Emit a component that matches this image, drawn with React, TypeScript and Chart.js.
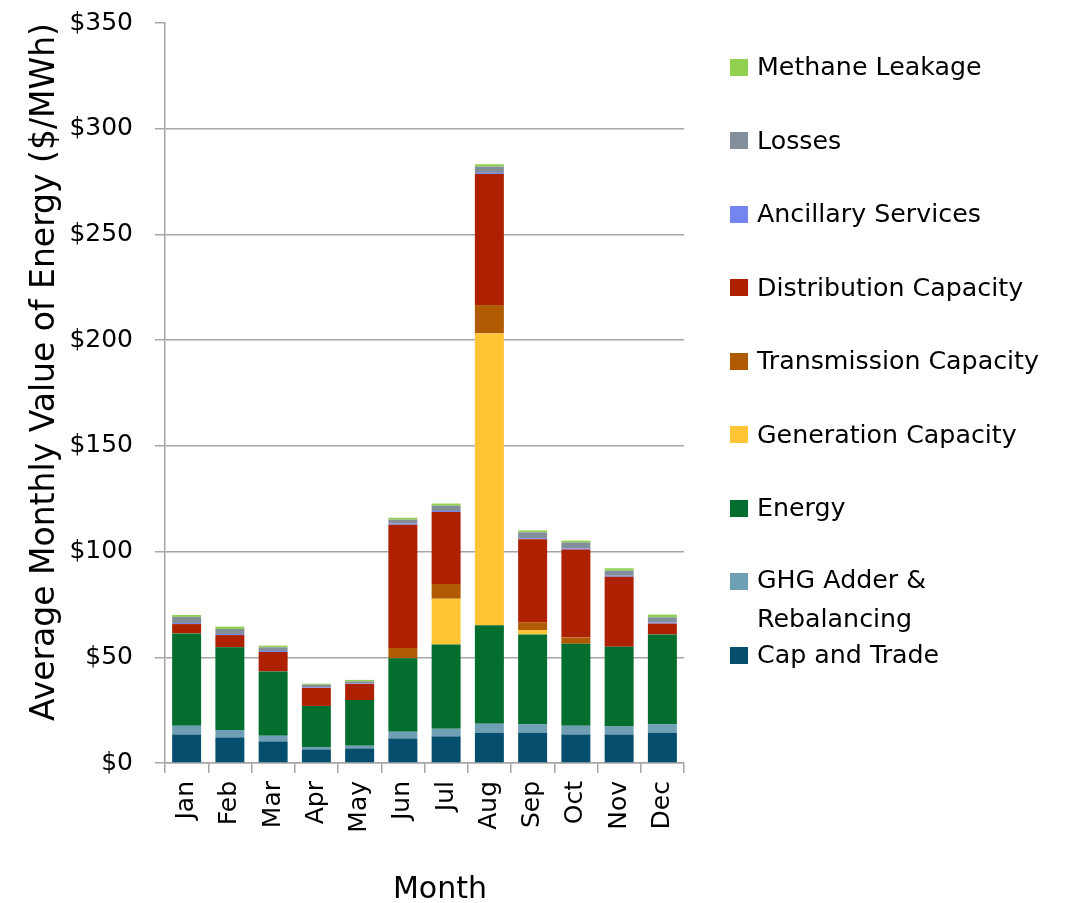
import React, { useEffect, useRef } from 'react';
import { Chart, registerables } from 'chart.js';

Chart.register(...registerables);

const months = ['Jan', 'Feb', 'Mar', 'Apr', 'May', 'Jun', 'Jul', 'Aug', 'Sep', 'Oct', 'Nov', 'Dec'];

const capAndTrade = [13.5, 12.1, 10.2, 6.4, 6.9, 11.6, 12.6, 14.3, 14.3, 13.5, 13.5, 14.3];
const ghgAdder = [4.1, 3.5, 2.7, 1.2, 1.3, 3.2, 3.6, 4.3, 4.1, 4.1, 3.8, 4.1];
const energy = [43.7, 39.1, 30.4, 19.4, 21.6, 34.7, 39.8, 46.5, 42.4, 38.8, 37.7, 42.4];
const generationCapacity = [0, 0, 0, 0, 0, 0, 21.7, 138.1, 2.1, 0, 0, 0];
const transmissionCapacity = [0, 0, 0, 0, 0, 4.9, 7.0, 13.4, 3.6, 2.9, 0, 0];
const distributionCapacity = [4.4, 5.8, 9.2, 8.5, 7.6, 58.3, 34.0, 62.0, 39.3, 41.7, 33.1, 5.1];
const ancillaryServices = [0.5, 0.5, 0.5, 0.3, 0.2, 0.5, 0.5, 0.5, 0.5, 0.5, 0.5, 0.5];
const losses = [2.9, 2.4, 1.7, 1.2, 1.0, 1.9, 2.5, 3.0, 2.8, 2.8, 2.4, 2.5];
const methaneLeakage = [0.9, 1.1, 0.8, 0.5, 0.7, 0.9, 1.0, 1.1, 0.9, 0.9, 1.1, 1.3];

const yTicks = [0, 50, 100, 150, 200, 250, 300, 350];

const seriesNames = [
  'Cap and Trade',
  'GHG Adder & Rebalancing',
  'Energy',
  'Generation Capacity',
  'Transmission Capacity',
  'Distribution Capacity',
  'Ancillary Services',
  'Losses',
  'Methane Leakage',
];
const seriesLegendLines = [
  ['Cap and Trade'],
  ['GHG Adder &', 'Rebalancing'],
  ['Energy'],
  ['Generation Capacity'],
  ['Transmission Capacity'],
  ['Distribution Capacity'],
  ['Ancillary Services'],
  ['Losses'],
  ['Methane Leakage'],
];
const seriesValues = [
  capAndTrade,
  ghgAdder,
  energy,
  generationCapacity,
  transmissionCapacity,
  distributionCapacity,
  ancillaryServices,
  losses,
  methaneLeakage,
];
const seriesColors = [
  '#054e6e',
  '#6e9fb5',
  '#036e2d',
  '#ffc535',
  '#b05a02',
  '#ad2000',
  '#7585f0',
  '#838e9b',
  '#92d050',
];

const FONT = "'DejaVu Sans', sans-serif";
const GRID = '#a6a6a6';

const titlePlugin = {
  id: 'axisTitles',
  afterDraw(chart: any) {
    const ctx = chart.ctx;
    ctx.save();
    ctx.fillStyle = '#000';
    ctx.font = `33px ${FONT}`;
    ctx.textAlign = 'center';
    ctx.textBaseline = 'alphabetic';
    ctx.translate(54, 372);
    ctx.rotate(-Math.PI / 2);
    ctx.fillText('Average Monthly Value of Energy ($/MWh)', 0, 0);
    ctx.restore();

    ctx.save();
    ctx.fillStyle = '#000';
    ctx.font = `30px ${FONT}`;
    ctx.textAlign = 'center';
    ctx.textBaseline = 'alphabetic';
    ctx.fillText('Month', 440, 898);
    ctx.restore();
  },
};

export default function App() {
  const ref = useRef<HTMLCanvasElement>(null);

  useEffect(() => {
    const canvas = ref.current;
    if (!canvas) return;
    const chart = new Chart(canvas, {
      type: 'bar',
      data: {
        labels: months,
        datasets: seriesNames.map((name, i) => ({
          label: name,
          data: seriesValues[i],
          backgroundColor: seriesColors[i],
          borderWidth: 0,
          categoryPercentage: 1,
          barPercentage: 0.67,
        })),
      },
      options: {
        responsive: false,
        devicePixelRatio: 1,
        animation: false,
        layout: { padding: { left: 0, right: 389, top: 23, bottom: 0 } },
        plugins: {
          legend: { display: false },
          tooltip: { enabled: false },
          title: { display: false },
        },
        scales: {
          x: {
            stacked: true,
            afterFit: (scale: any) => {
              scale.height = 140;
              scale.paddingTop = 0;
            },
            grid: {
              offset: true,
              drawOnChartArea: false,
              color: GRID,
              tickLength: 10,
              lineWidth: 1.5,
            },
            border: { display: true, color: GRID, width: 1.5 },
            ticks: {
              minRotation: 90,
              maxRotation: 90,
              padding: 8,
              color: '#000',
              font: { family: FONT, size: 25 },
            },
          },
          y: {
            stacked: true,
            min: 0,
            max: 350,
            afterFit: (scale: any) => {
              scale.width = 165;
              scale.paddingTop = 0;
              scale.paddingBottom = 0;
            },
            afterBuildTicks: (scale: any) => {
              scale.ticks = yTicks.map((v) => ({ value: v }));
            },
            grid: {
              color: (c: any) => (c.tick && c.tick.value === 350 ? 'rgba(0,0,0,0)' : GRID),
              tickColor: GRID,
              tickLength: 10,
              lineWidth: 1.5,
            },
            border: { display: true, color: GRID, width: 1.5 },
            ticks: {
              padding: 22,
              color: '#000',
              font: { family: FONT, size: 25 },
              callback: (v: any) => `$${v}`,
            },
          },
        },
      },
      plugins: [titlePlugin],
    });
    return () => chart.destroy();
  }, []);

  const legendCenters = [655, 581, 508, 434.5, 361, 287.5, 214, 140.5, 67];

  return (
    <div style={{ position: 'absolute', left: 0, top: 0, width: 1073, height: 903, background: '#fff' }}>
      <canvas ref={ref} width={1073} height={903} style={{ position: 'absolute', left: 0, top: 0 }} />
      {seriesNames.map((name, i) => {
        const lines = seriesLegendLines[i];
        const c = legendCenters[i];
        const lh = lines.length > 1 ? 39 : 30;
        const half = lines.length > 1 ? 21.5 : 15;
        return (
          <div
            key={name}
            style={{
              position: 'absolute',
              left: 730,
              top: c - half,
              fontFamily: FONT,
              fontSize: 25.3,
              lineHeight: `${lh}px`,
              color: '#000',
              whiteSpace: 'nowrap',
            }}
          >
            <span
              style={{
                position: 'absolute',
                left: 0,
                top: half - 8.5,
                width: 18,
                height: 17,
                background: seriesColors[i],
              }}
            />
            <div style={{ marginLeft: 27 }}>
              {lines.map((l) => (
                <div key={l}>{l}</div>
              ))}
            </div>
          </div>
        );
      })}
    </div>
  );
}
